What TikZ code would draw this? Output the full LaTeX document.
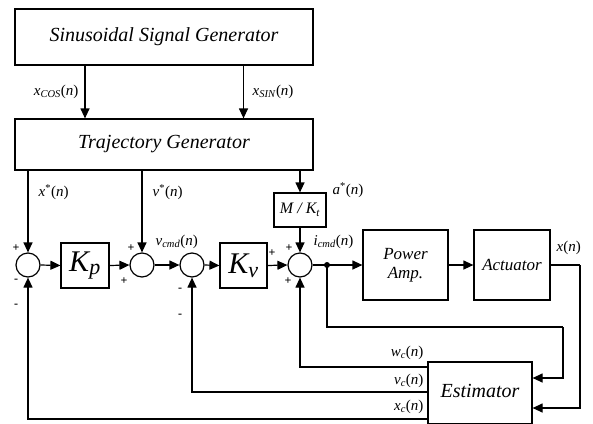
\documentclass[tikz,border=0pt]{standalone}
\usepackage{fontspec}
\setmainfont{Liberation Serif}
\usetikzlibrary{arrows.meta}
\newcommand{\sgl}[2]{\textit{#1}\textsubscript{\textit{#2}}(\textit{n})}
\newcommand{\sgs}[1]{\textit{#1}\textsuperscript{*}(\textit{n})}
\begin{document}
\begin{tikzpicture}[x=1pt,y=-1pt,
  line width=1.2pt,
  blk/.style={draw, line width=1.2pt, inner sep=0pt, font=\itshape},
  sumc/.style={draw, circle, line width=1.2pt, minimum size=24pt, inner sep=0pt},
  arr/.style={-{Triangle[length=10pt,width=9pt]}},
  lbl/.style={font=\fontsize{15}{17}\selectfont, inner sep=0pt},
  sgn/.style={font=\fontsize{12}{13}\selectfont\bfseries, inner sep=0pt}]
\useasboundingbox (0,0) rectangle (593,423);
% blocks
\node[blk, minimum width=298pt, minimum height=56pt, font=\fontsize{20}{22}\selectfont\itshape] (sig) at (164,37) {Sinusoidal Signal Generator};
\node[blk, minimum width=298pt, minimum height=51pt, font=\fontsize{20}{22}\selectfont\itshape] (traj) at (164,144.5) {Trajectory Generator};
\node[blk, minimum width=48pt, minimum height=45pt, font=\fontsize{30}{32}\selectfont\itshape] (Kp) at (85,265.5) {K\textsubscript{\fontsize{22}{24}\selectfont p}};
\node[blk, minimum width=47pt, minimum height=45pt, font=\fontsize{30}{32}\selectfont\itshape] (Kv) at (243.5,265.5) {K\textsubscript{\fontsize{22}{24}\selectfont v}};
\node[blk, minimum width=52pt, minimum height=34pt, font=\fontsize{16}{18}\selectfont\itshape] (MK) at (300,210) {M / K\textsubscript{t}};
\node[blk, minimum width=85pt, minimum height=70pt, align=center, font=\fontsize{17}{19}\selectfont\itshape] (PA) at (405.5,265) {Power\\Amp.};
\node[blk, minimum width=76pt, minimum height=70pt, font=\fontsize{17}{19}\selectfont\itshape] (Act) at (512,265) {Actuator};
\node[blk, minimum width=104pt, minimum height=62pt, font=\fontsize{20}{22}\selectfont\itshape] (Est) at (480,393) {\raisebox{4pt}{Estimator}};
% summing junctions
\node[sumc] (s1) at (28,265) {};
\node[sumc] (s2) at (142,265) {};
\node[sumc] (s3) at (192,265) {};
\node[sumc] (s4) at (300,265) {};
% helper coordinates
\coordinate (d) at (327,265);
\fill (d) circle (3pt);
\coordinate (ra) at (563,327);
\coordinate (rb) at (580,265);
% top arrows
\draw[arr] (sig.south -| Kp) -- (traj.north -| Kp);
\draw[arr] (sig.south -| Kv) -- (traj.north -| Kv);
\draw[arr] (traj.south -| s1) -- (s1.north);
\draw[arr] (traj.south -| s2) -- (s2.north);
\draw[arr] (traj.south -| MK) -- (MK.north);
\draw[arr] (MK.south) -- (s4.north);
% forward path
\draw[arr] (s1.east) -- (Kp.west);
\draw[arr] (Kp.east) -- (s2.west);
\draw[arr] (s2.east) -- (s3.west);
\draw[arr] (s3.east) -- (Kv.west);
\draw[arr] (Kv.east) -- (s4.west);
\draw (s4.east) -- (d);
\draw[arr] (d) -- (PA.west);
\draw[arr] (PA.east) -- (Act.west);
% to estimator
\draw (Act.east) -- (rb);
\draw[arr] (rb) |- ([yshift=-15pt]Est.east);
\draw (d) |- (ra);
\draw[arr] (ra) |- ([yshift=15pt]Est.east);
% feedback
\draw[arr] ([yshift=26pt]Est.west) -| (s4.south);
\draw[arr] ([yshift=1pt]Est.west) -| (s3.south);
\draw[arr] ([yshift=-26pt]Est.west) -| (s1.south);
% labels
\node[lbl, anchor=east] at (79,92) {\sgl{x}{COS}};
\node[lbl, anchor=west] at (252,92) {\sgl{x}{SIN}};
\node[lbl, anchor=west] at (38,192) {\sgs{x}};
\node[lbl, anchor=west] at (152,192) {\sgs{v}};
\node[lbl, anchor=west] at (332,190) {\sgs{a}};
\node[lbl, anchor=west] at (155,242) {\sgl{v}{cmd}};
\node[lbl, anchor=west] at (313,242) {\sgl{i}{cmd}};
\node[lbl, anchor=west] at (556,248) {\textit{x}(\textit{n})};
\node[lbl, anchor=east] at (424,353) {\sgl{w}{c}};
\node[lbl, anchor=east] at (424,381) {\sgl{v}{c}};
\node[lbl, anchor=east] at (424,407) {\sgl{x}{c}};
% signs
\node[sgn] at (16,248) {+};
\node[sgn] at (16,281) {-};
\node[sgn] at (16,306) {-};
\node[sgn] at (131,248) {+};
\node[sgn] at (124,281) {+};
\node[sgn] at (180,290) {-};
\node[sgn] at (180,316) {-};
\node[sgn] at (289,248) {+};
\node[sgn] at (288,281) {+};
\node[sgn] at (272,253) {+};
\end{tikzpicture}
\end{document}
